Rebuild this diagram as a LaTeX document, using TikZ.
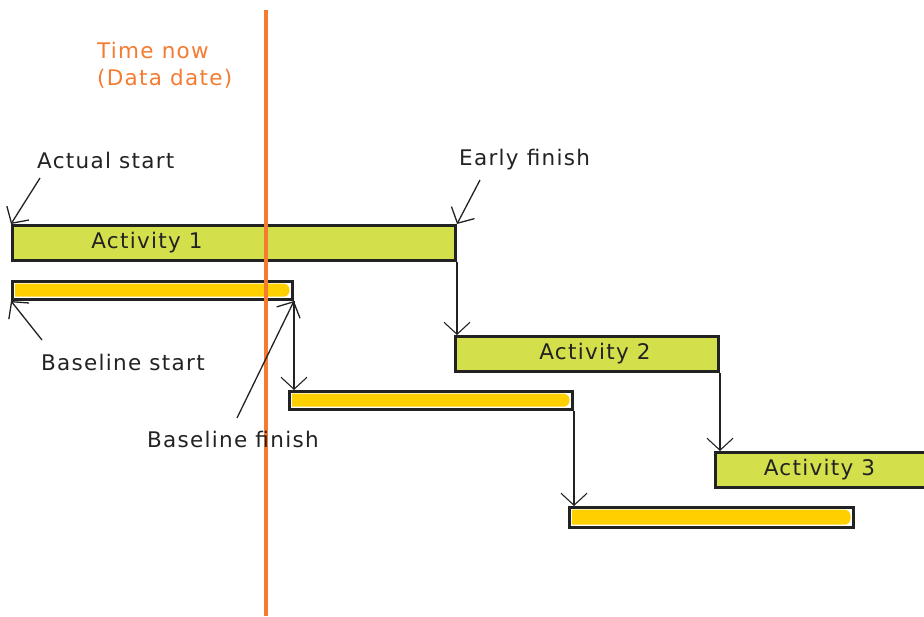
\documentclass[tikz,border=0pt]{standalone}
\usepackage{fontspec}
\setmainfont{DejaVu Sans}[LetterSpace=6]
\usetikzlibrary{positioning, arrows.meta}
\definecolor{actgreen}{HTML}{D4DF4C}
\definecolor{baseyellow}{HTML}{FFD000}
\definecolor{noworange}{HTML}{F47B30}
\definecolor{inkblack}{HTML}{222222}

\begin{document}
\begin{tikzpicture}[
    x=1pt, y=-1pt,
    every node/.style={font=\fontsize{21.5}{27}\selectfont, text=inkblack},
    actbar/.style={
      rectangle, draw=inkblack, line width=3pt, fill=actgreen,
      anchor=north west, minimum height=35pt, inner sep=0pt
    },
    basebar/.style={
      rectangle, draw=inkblack, line width=3pt, fill=white,
      anchor=north west, minimum height=18pt, inner sep=0pt,
      path picture={
        \fill[baseyellow]
          ([xshift=2.5pt, yshift=-2.2pt]path picture bounding box.north west)
          [rounded corners=6pt]
          -- ([xshift=-3pt, yshift=-2.2pt]path picture bounding box.north east)
          -- ([xshift=-3pt, yshift=2.8pt]path picture bounding box.south east)
          [sharp corners]
          -- ([xshift=2.5pt, yshift=2.8pt]path picture bounding box.south west)
          -- cycle;
      }
    },
    note/.style={inner sep=2pt},
    arr/.style={-{Straight Barb[length=12pt, width=26pt]}, line width=1.3pt, color=inkblack},
    link/.style={-{Straight Barb[length=12pt, width=26pt]}, line width=1.1pt, color=inkblack},
    nowline/.style={line width=4.5pt, color=noworange},
  ]
  \useasboundingbox (0,0) rectangle (924,616);

  % ============ Bars ============
  \node[actbar, minimum width=443pt,
        label={[xshift=-87pt]center:Activity 1}] (act1) at (11,224) {};
  \node[basebar, minimum width=280pt] (base1) at (11,280) {};
  \node[actbar, minimum width=263pt, label={[xshift=8pt]center:Activity 2}]
    (act2) at (454,335) {};
  \node[basebar, minimum width=283pt] (base2) at (288,390) {};
  \node[actbar, minimum width=230pt, label={[xshift=-11pt]center:Activity 3}]
    (act3) at (714,451) {};
  \node[basebar, minimum width=284pt, minimum height=20pt] (base3) at (568,506) {};

  % ============ Time now ============
  \coordinate (nowtop) at (266,10);
  \coordinate (nowbot) at (266,616);
  \draw[nowline] (nowtop) -- (nowbot);
  \node[note, text=noworange, align=left, anchor=north west] (now) at (95,40)
    {Time now\\(Data date)};

  % ============ Notes ============
  \node[note, anchor=west] (actstart) at (35,160) {Actual start};
  \node[note, anchor=west] (earlyfin) at (457,160) {Early finish};
  \node[note, anchor=west] (basestart) at (39,362) {Baseline start};
  \node[note, anchor=west] (basefin) at (145,439) {Baseline finish};
  \coordinate (astail) at (40,178);
  \coordinate (eftail) at (480,180);
  \coordinate (bstail) at (42,340);
  \coordinate (bftail) at (237,418);

  % ============ Arrows ============
  % notes -> bar ends
  \draw[arr] (astail) -- (act1.north west);
  \draw[arr] (eftail) -- (act1.north east);
  \draw[arr] (bstail) -- (base1.south west);
  \draw[arr] (bftail) -- (base1.south east);

  % finish -> start links
  \draw[link] (act1.south east) -- (act1.south east |- act2.north);
  \draw[link] (base1.south east) -- (base1.south east |- base2.north);
  \draw[link] (act2.south east) -- (act2.south east |- act3.north);
  \draw[link] (base2.south east) -- (base2.south east |- base3.north);

\end{tikzpicture}
\end{document}
